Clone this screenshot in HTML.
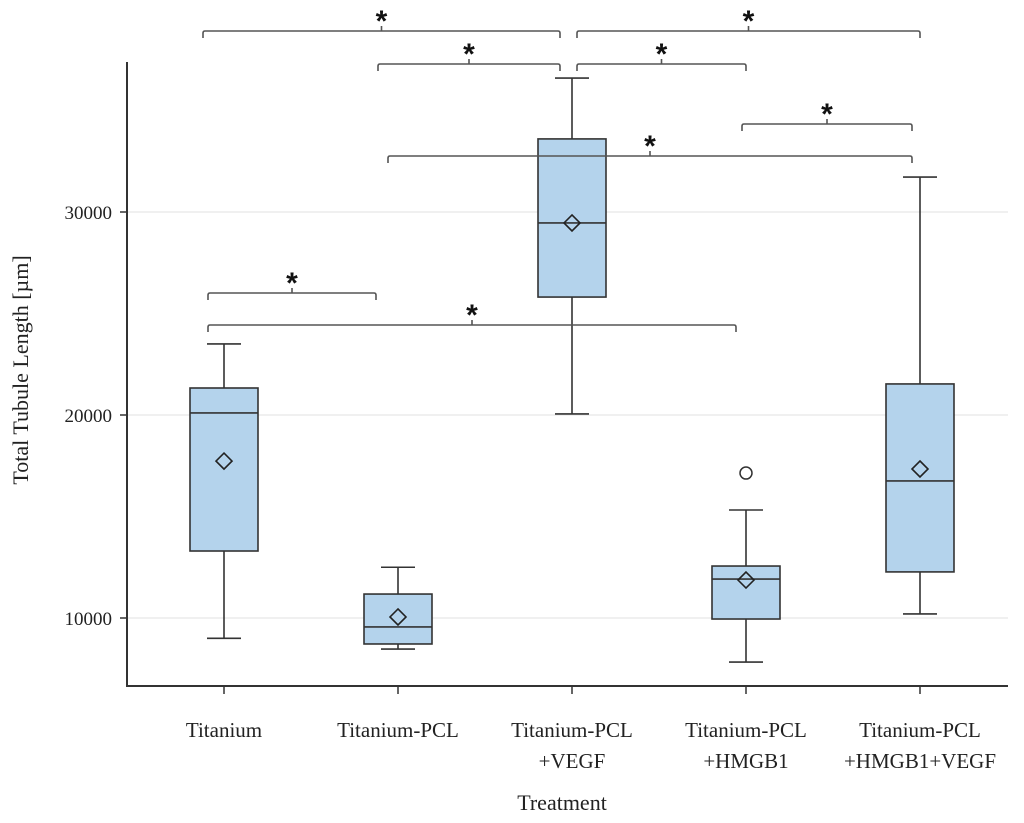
<!DOCTYPE html>
<html><head><meta charset="utf-8">
<style>
html,body{margin:0;padding:0;background:#fff;}
svg{display:block;font-family:"Liberation Serif",serif;}
</style></head>
<body>
<svg id="chart" width="1024" height="823" viewBox="0 0 1024 823"></svg>
<script>
const categories = [["Titanium"],["Titanium-PCL"],["Titanium-PCL","+VEGF"],["Titanium-PCL","+HMGB1"],["Titanium-PCL","+HMGB1+VEGF"]];
const whiskerHigh = [23500, 12500, 36600, 15320, 31720];
const q3Values = [21330, 11180, 33600, 12560, 21530];
const medianValues = [20100, 9560, 29460, 11920, 16750];
const meanValues = [17730, 10050, 29460, 11870, 17340];
const q1Values = [13300, 8720, 25810, 9950, 12270];
const whiskerLow = [9000, 8470, 20050, 7830, 10200];
const outliers = [[], [], [], [17140], []];
const yTicks = [10000, 20000, 30000];
// significance brackets: [fromGroup, toGroup, value level]
const brackets = [[0,2,38916],[2,4,38916],[1,2,37291],[2,3,37291],[3,4,34335],[1,4,32759],[0,1,26010],[0,3,24433]];

const svg = document.getElementById('chart');
const NS = 'http://www.w3.org/2000/svg';
function yS(v){ return 618 - (v-10000)*0.0203; }
function xS(i){ return 224 + i*174; }
const bracketEnds = [[-21,-12],[5,0],[-20,-12],[5,0],[-4,-8],[-10,-8],[-16,-22],[-16,-10]];
function mk(tag, attrs, parent){
  const e = document.createElementNS(NS, tag);
  for (const k in attrs) e.setAttribute(k, attrs[k]);
  (parent||svg).appendChild(e);
  return e;
}
yTicks.forEach(t=>{
  const g = mk('line',{x1:128,x2:1008,y1:yS(t),y2:yS(t),stroke:'#ececec','stroke-width':1.5});
  
  
  const tk = mk('line',{x1:120,x2:127,y1:yS(t),y2:yS(t),stroke:'#333','stroke-width':1.5});
  
  
  const tl = mk('text',{x:112,y:yS(t)+7,'text-anchor':'end','font-size':19,fill:'#222'});
  tl.textContent = t;
  
  
});
const ya = mk('line',{x1:127,x2:127,y1:62,y2:687,stroke:'#333','stroke-width':2});


const xa = mk('line',{x1:126,x2:1008,y1:686,y2:686,stroke:'#333','stroke-width':2});


categories.forEach((c,i)=>{
  const x = xS(i), g = mk('g',{});
  
  
  const st = {stroke:'#333','stroke-width':1.6,fill:'none'};
  mk('line',Object.assign({x1:x,x2:x,y1:yS(whiskerHigh[i]),y2:yS(q3Values[i])},st),g);
  mk('line',Object.assign({x1:x,x2:x,y1:yS(q1Values[i]),y2:yS(whiskerLow[i])},st),g);
  mk('line',Object.assign({x1:x-17,x2:x+17,y1:yS(whiskerHigh[i]),y2:yS(whiskerHigh[i])},st),g);
  mk('line',Object.assign({x1:x-17,x2:x+17,y1:yS(whiskerLow[i]),y2:yS(whiskerLow[i])},st),g);
  mk('rect',{x:x-34,y:yS(q3Values[i]),width:68,height:yS(q1Values[i])-yS(q3Values[i]),fill:'#b4d3ec',stroke:'#333','stroke-width':1.6},g);
  mk('line',Object.assign({x1:x-34,x2:x+34,y1:yS(medianValues[i]),y2:yS(medianValues[i])},st),g);
  const my = yS(meanValues[i]);
  mk('polygon',{points:`${x},${my-8} ${x+8},${my} ${x},${my+8} ${x-8},${my}`,fill:'none',stroke:'#222','stroke-width':1.6},g);
  outliers[i].forEach(o=>{ mk('circle',{cx:x,cy:yS(o),r:6,fill:'#fff',stroke:'#333','stroke-width':1.5},g); });
  const xt = mk('line',{x1:x,x2:x,y1:686,y2:694,stroke:'#333','stroke-width':1.5});
  
  
  c.forEach((line,j)=>{
    const t = mk('text',{x:x,y:737+j*31,'text-anchor':'middle','font-size':21,fill:'#222'});
    t.textContent = line;
    
    
  });
});
brackets.forEach((b,k)=>{
  const xa1 = xS(b[0]) + bracketEnds[k][0];
  const xa2 = xS(b[1]) + bracketEnds[k][1];
  const y = yS(b[2]);
  const g = mk('g',{});
  
  
  mk('path',{d:`M${xa1},${y+7} L${xa1},${y+2} Q${xa1},${y} ${xa1+2},${y} L${xa2-2},${y} Q${xa2},${y} ${xa2},${y+2} L${xa2},${y+7}`,fill:'none',stroke:'#555','stroke-width':1.6},g);
  const cx = (xa1+xa2)/2;
  mk('line',{x1:cx,x2:cx,y1:y,y2:y-5,stroke:'#555','stroke-width':1.6},g);
  const s = mk('text',{x:cx,y:y,'text-anchor':'middle','font-size':30,'font-weight':'bold','font-family':'"Liberation Sans",sans-serif',fill:'#111'},g);
  s.textContent='*';
});
const yt = mk('text',{x:0,y:0,'text-anchor':'middle','font-size':22,fill:'#222',transform:'translate(28,370) rotate(-90)'});
yt.textContent='Total Tubule Length [µm]';


const xt2 = mk('text',{x:562,y:810,'text-anchor':'middle','font-size':22,fill:'#222'});
xt2.textContent='Treatment';


</script>
</body></html>
